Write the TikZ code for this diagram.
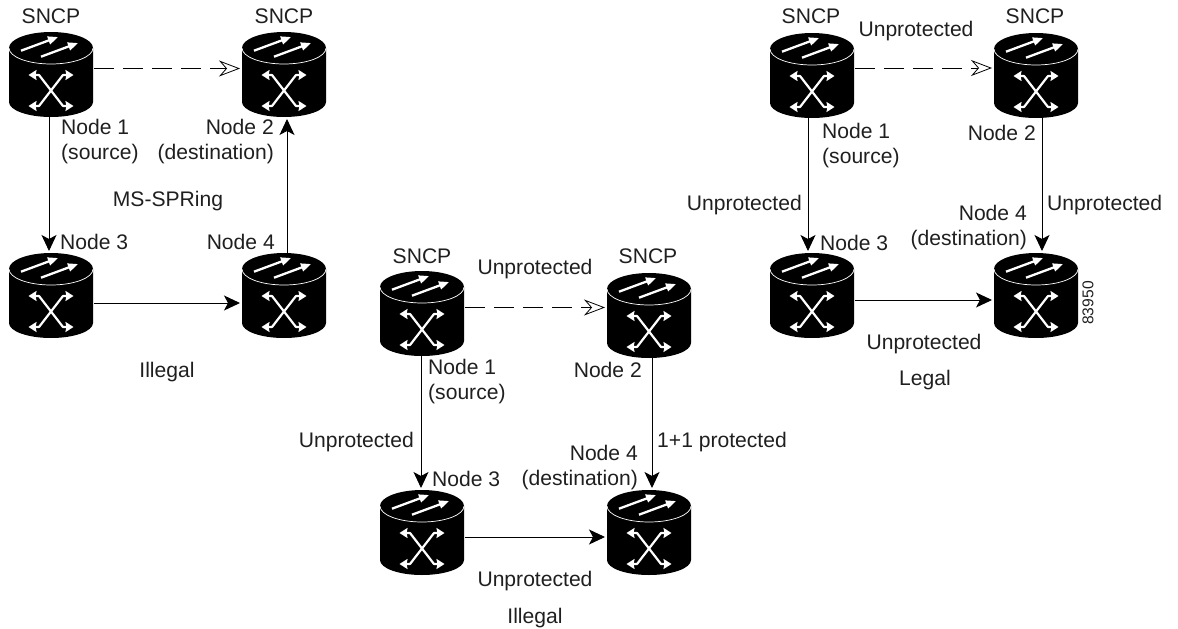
\documentclass[tikz,border=0pt]{standalone}
\usepackage{fontspec}
\setmainfont{Liberation Sans}
\usetikzlibrary{arrows.meta}
\tikzset{
  x=1pt,y=-1pt,
  lbl/.style={inner sep=0pt,font=\fontsize{21.1}{25}\selectfont,text=black!88,yshift=-1pt},
  box/.style={minimum width=84pt,minimum height=85pt,inner sep=0pt,outer sep=0pt},
  conn/.style={line width=0.9pt,shorten >=2pt,-{Stealth[length=16pt,width=15pt,inset=4pt]}},
  dashconn/.style={line width=0.8pt,dash pattern=on 20pt off 9pt,-{Stealth[open,length=21pt,width=16pt,inset=7pt,fill=white]}},
  wa/.style={white,line width=2.2pt,{Stealth[length=8pt,width=10pt,inset=1pt]}-{Stealth[length=8pt,width=10pt,inset=1pt]},line join=round},
  wb/.style={white,line width=2.3pt,-{Stealth[length=10pt,width=8pt,inset=0pt]}},
}
\newcommand{\router}[3]{%
  \node[box] (#1) at (#2,#3+42.5) {};
  \begin{scope}[shift={(#2,#3)}]
    \fill[black] (-42,16) arc[start angle=180,end angle=360,x radius=42,y radius=16]
      -- (42,70) arc[start angle=0,end angle=180,x radius=42,y radius=15] -- cycle;
    \draw[white,line width=0.7pt] (-42,16) arc[start angle=180,end angle=0,x radius=42,y radius=16];
    \draw[wb] (-30,18.7) -- (7,5);
    \draw[wb] (-10,24.7) -- (27,11);
    \draw[wa] (-22.5,43) -- (-12,43) -- (12,74) -- (22.5,74);
    \draw[wa] (-22.5,74) -- (-12,74) -- (12,43) -- (22.5,43);
  \end{scope}}
\begin{document}
\begin{tikzpicture}
\useasboundingbox (0,0) rectangle (1178,629);
% left group
\router{la}{51}{32}\router{lb}{284}{32}\router{lc}{51}{253}\router{ld}{284}{253}
\coordinate (lp) at ([yshift=6pt,xshift=1pt]la.east);
\draw[dashconn] (lp) -- ([xshift=-2pt]lp -| lb.west);
\draw[conn] ([xshift=-2pt]la.south) -- ([xshift=-2pt]lc.north);
\draw[conn] ([yshift=-7.5pt,xshift=1pt]lc.east) -- ([yshift=-7.5pt]ld.west);
\draw[conn] ([xshift=3pt]ld.north) -- ([xshift=3pt]lb.south);
% middle group
\router{ma}{422}{271}\router{mb}{649}{273}\router{mc}{422}{490}\router{md}{649}{490}
\coordinate (mp) at ([yshift=6pt,xshift=1pt]ma.east);
\draw[dashconn] (mp) -- ([xshift=-2pt]mp -| mb.west);
\draw[conn] ([xshift=-1pt]ma.south) -- ([xshift=-1pt]mc.north);
\draw[conn] ([yshift=-4.5pt,xshift=1pt]mc.east) -- ([yshift=-4.5pt]md.west);
\draw[conn] ([xshift=3pt]mb.south) -- ([xshift=3pt]md.north);
% right group
\router{ra}{812}{33}\router{rb}{1036}{33}\router{rc}{812}{253}\router{rd}{1036}{253}
\coordinate (rp) at ([yshift=7.5pt,xshift=1pt]ra.east);
\draw[dashconn] (rp) -- ([xshift=-2pt]rp -| rb.west);
\draw[conn] ([xshift=-4pt]ra.south) -- ([xshift=-4pt]rc.north);
\draw[conn] ([yshift=-4.5pt,xshift=1pt]rc.east) -- ([yshift=-4.5pt]rd.west);
\draw[conn] ([xshift=6pt]rb.south) -- ([xshift=6pt]rd.north);
% labels
\node[lbl] (t1) at (51,15) {SNCP};
\node[lbl] (t2) at (284,15) {SNCP};
\node[lbl,align=left,anchor=west] (t3) at (61,140.5) {Node 1\\(source)};
\node[lbl,align=right,anchor=east] (t4) at (274,140.5) {Node 2\\(destination)};
\node[lbl] (t5) at (168,200) {MS-SPRing};
\node[lbl,anchor=west] (t6) at (60,241) {Node 3};
\node[lbl,anchor=east] (t7) at (275,241) {Node 4};
\node[lbl] (t8) at (167,371) {Illegal};
\node[lbl] (t9) at (422,255) {SNCP};
\node[lbl] (t10) at (648,255) {SNCP};
\node[lbl] (t11) at (535,268) {Unprotected};
\node[lbl,align=left,anchor=west] (t12) at (428,381) {Node 1\\(source)};
\node[lbl,anchor=east] (t13) at (642,369) {Node 2};
\node[lbl,anchor=east] (t14) at (414,441) {Unprotected};
\node[lbl,anchor=west] (t15) at (657,441) {1+1 protected};
\node[lbl,anchor=west] (t16) at (432,478) {Node 3};
\node[lbl,align=right,anchor=east] (t17) at (638,466.5) {Node 4\\(destination)};
\node[lbl] (t18) at (535,580) {Unprotected};
\node[lbl] (t19) at (535,617) {Illegal};
\node[lbl] (t20) at (811,15) {SNCP};
\node[lbl] (t21) at (1035,15) {SNCP};
\node[lbl] (t22) at (916,30) {Unprotected};
\node[lbl,align=left,anchor=west] (t23) at (822,144.5) {Node 1\\(source)};
\node[lbl,anchor=east] (t24) at (1036,132) {Node 2};
\node[lbl,anchor=east] (t25) at (802,204) {Unprotected};
\node[lbl,anchor=west] (t26) at (1047,204) {Unprotected};
\node[lbl,anchor=west] (t27) at (820,242) {Node 3};
\node[lbl,align=right,anchor=east] (t28) at (1027,226.5) {Node 4\\(destination)};
\node[lbl] (t29) at (924,343) {Unprotected};
\node[lbl] (t30) at (925,379) {Legal};
\node[inner sep=0pt,rotate=90,font=\fontsize{15.6}{18}\selectfont,text=black!88] (t31) at (1088,303) {83950};
\end{tikzpicture}
\end{document}
